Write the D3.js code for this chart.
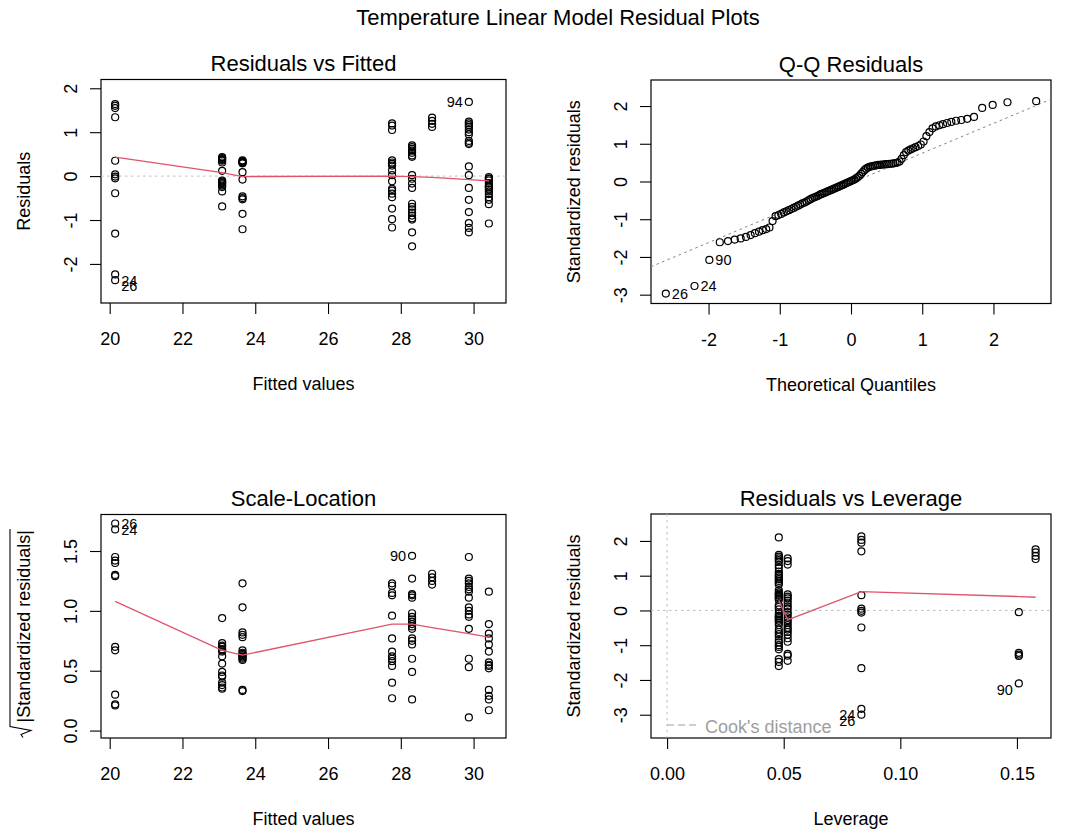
<!DOCTYPE html>
<html>
<head>
<meta charset="utf-8">
<title>Temperature Linear Model Residual Plots</title>
<script src="https://cdn.jsdelivr.net/npm/d3@7"></script>
<style>
  html, body { margin: 0; padding: 0; background: #ffffff; }
  svg { display: block; font-family: "Liberation Sans", Arial, Helvetica, sans-serif; }
</style>
</head>
<body>
<svg id="chart" width="1066" height="835"></svg>
<script>
// ---------- Residuals vs Fitted ----------
const fittedLevels = [20.15, 23.09, 23.65, 27.76, 28.31, 28.86, 29.87, 30.42];
const residualsByLevel = [
  [1.64, 1.60, 1.55, 1.34, 0.35, 0.04, -0.01, -0.05, -0.39, -1.31, -2.24, -2.37],
  [0.43, 0.41, 0.39, 0.37, 0.35, 0.31, 0.12, -0.10, -0.12, -0.14, -0.16, -0.19, -0.22, -0.25, -0.35, -0.69],
  [0.36, 0.34, 0.33, 0.32, 0.30, 0.29, 0.09, -0.08, -0.46, -0.50, -0.53, -0.86, -1.21],
  [1.20, 1.15, 1.05, 0.36, 0.31, 0.28, 0.24, 0.13, 0.02, -0.12, -0.29, -0.33, -0.40, -0.48, -0.74, -0.98, -1.17],
  [0.70, 0.66, 0.62, 0.58, 0.53, 0.47, 0.44, 0.02, -0.06, -0.17, -0.27, -0.63, -0.70, -0.76, -0.83, -0.90, -0.96, -0.99, -1.28, -1.60],
  [1.33, 1.26, 1.19, 1.12],
  [1.69, 1.24, 1.20, 1.16, 1.12, 1.06, 1.00, 0.95, 0.80, 0.76, 0.73, 0.22, 0.02, -0.27, -0.54, -0.82, -1.07, -1.18, -1.28],
  [-0.02, -0.05, -0.07, -0.10, -0.16, -0.22, -0.24, -0.26, -0.30, -0.35, -0.41, -0.48, -0.54, -0.64, -1.08]
];
const residualSmooth = [0.43, 0.08, -0.01, 0.00, -0.01, -0.03, -0.08, -0.11];
const residualLabels = [
  { id: "94", x: 29.87, y: 1.69 },
  { id: "24", x: 20.15, y: -2.24 },
  { id: "26", x: 20.15, y: -2.37 }
];

// ---------- Q-Q Residuals ----------
const qqTheoretical = [
  -2.600, -2.197, -1.989, -1.842, -1.727, -1.632, -1.549, -1.475, -1.409, -1.349,
  -1.292, -1.240, -1.191, -1.145, -1.101, -1.059, -1.019, -0.980, -0.943, -0.907,
  -0.872, -0.838, -0.805, -0.773, -0.742, -0.711, -0.682, -0.652, -0.624, -0.595,
  -0.568, -0.540, -0.513, -0.487, -0.461, -0.435, -0.410, -0.384, -0.359, -0.334,
  -0.310, -0.285, -0.261, -0.237, -0.213, -0.189, -0.165, -0.141, -0.117, -0.094,
  -0.070, -0.047, -0.023, 0.000, 0.023, 0.047, 0.070, 0.094, 0.117, 0.141,
  0.165, 0.189, 0.213, 0.237, 0.261, 0.285, 0.310, 0.334, 0.359, 0.384,
  0.410, 0.435, 0.461, 0.487, 0.513, 0.540, 0.568, 0.595, 0.624, 0.652,
  0.682, 0.711, 0.742, 0.773, 0.805, 0.838, 0.872, 0.907, 0.943, 0.980,
  1.019, 1.059, 1.101, 1.145, 1.191, 1.240, 1.292, 1.349, 1.409, 1.475,
  1.549, 1.632, 1.727, 1.842, 1.989, 2.197, 2.600
];
const qqSample = [
  -2.97, -2.77, -2.08, -1.61, -1.58, -1.54, -1.51, -1.47, -1.42, -1.37,
  -1.33, -1.29, -1.26, -1.22, -1.05, -0.92, -0.89, -0.86, -0.82, -0.79,
  -0.76, -0.73, -0.70, -0.67, -0.64, -0.61, -0.58, -0.56, -0.53, -0.50,
  -0.47, -0.44, -0.42, -0.40, -0.38, -0.35, -0.33, -0.31, -0.29, -0.27,
  -0.25, -0.23, -0.21, -0.19, -0.17, -0.15, -0.13, -0.11, -0.09, -0.07,
  -0.05, -0.03, -0.01, 0.01, 0.03, 0.05, 0.08, 0.11, 0.15, 0.20,
  0.25, 0.30, 0.34, 0.37, 0.39, 0.40, 0.41, 0.42, 0.43, 0.44,
  0.44, 0.45, 0.45, 0.46, 0.46, 0.47, 0.47, 0.48, 0.49, 0.50,
  0.53, 0.60, 0.70, 0.78, 0.82, 0.85, 0.88, 0.91, 0.94, 0.98,
  1.06, 1.20, 1.31, 1.41, 1.46, 1.49, 1.52, 1.55, 1.58, 1.61,
  1.63, 1.66, 1.71, 1.95, 2.03, 2.10, 2.13
];
const qqLineIntercept = -0.04;
const qqLineSlope = 0.79;
const qqLabels = [
  { id: "26", rank: 0 },
  { id: "24", rank: 1 },
  { id: "90", rank: 2 }
];

// ---------- Scale-Location ----------
const scaleByLevel = [
  [1.73, 1.68, 1.45, 1.42, 1.40, 1.30, 1.29, 0.70, 0.67, 0.30, 0.22, 0.21],
  [0.94, 0.73, 0.71, 0.70, 0.68, 0.67, 0.66, 0.62, 0.56, 0.49, 0.46, 0.45, 0.40, 0.38, 0.36, 0.35],
  [1.23, 1.03, 0.82, 0.80, 0.78, 0.67, 0.65, 0.64, 0.63, 0.62, 0.61, 0.60, 0.59, 0.34, 0.33],
  [1.23, 1.21, 1.15, 1.13, 0.96, 0.77, 0.66, 0.62, 0.60, 0.58, 0.54, 0.40, 0.27],
  [1.46, 1.27, 1.14, 1.13, 1.11, 0.98, 0.95, 0.93, 0.91, 0.89, 0.87, 0.85, 0.77, 0.75, 0.72, 0.60, 0.49, 0.26],
  [1.31, 1.28, 1.25, 1.22],
  [1.45, 1.27, 1.25, 1.23, 1.20, 1.18, 1.16, 1.11, 1.03, 1.00, 0.97, 0.95, 0.85, 0.60, 0.53, 0.11],
  [1.16, 0.89, 0.81, 0.77, 0.72, 0.66, 0.57, 0.55, 0.54, 0.52, 0.34, 0.29, 0.26, 0.17]
];
const scaleSmooth = [1.08, 0.67, 0.63, 0.89, 0.89, 0.86, 0.81, 0.78];
const scaleLabels = [
  { id: "26", x: 20.15, y: 1.73 },
  { id: "24", x: 20.15, y: 1.68 },
  { id: "90", x: 28.31, y: 1.46 }
];

// ---------- Residuals vs Leverage ----------
const leverageLevels = [0.0479, 0.0517, 0.0833, 0.1508, 0.158];
const stdResidByLeverage = [
  [2.10, 1.60, 1.55, 1.50, 1.45, 1.40, 1.30, 1.22, 1.12, 1.05, 1.00, 0.95, 0.90, 0.85, 0.80, 0.75,
   0.58, 0.52, 0.48, 0.45, 0.42, 0.38, 0.35, 0.30, 0.15, 0.10, 0.03, -0.08, -0.15, -0.18, -0.22,
   -0.26, -0.30, -0.35, -0.42, -0.55, -0.62, -0.68, -0.75, -0.85, -0.92, -1.00, -1.05, -1.12,
   -1.40, -1.48, -1.60],
  [1.50, 1.42, 1.32, 0.46, 0.40, 0.35, 0.28, 0.20, 0.12, 0.05, -0.05, -0.12, -0.20, -0.28, -0.35,
   -0.42, -0.50, -0.55, -0.62, -0.70, -0.80, -0.90, -1.25, -1.30, -1.45],
  [2.13, 2.03, 1.95, 1.70, 0.44, 0.05, -0.01, -0.06, -0.49, -1.66, -2.83, -3.00],
  [-0.05, -1.22, -1.27, -1.31, -2.10],
  [1.76, 1.67, 1.57, 1.48]
];
const leverageSmooth = [0.29, -0.27, 0.54, 0.40, 0.38];
const leverageLabels = [
  { id: "24", x: 0.0833, y: -2.83 },
  { id: "26", x: 0.0833, y: -3.00 },
  { id: "90", x: 0.1508, y: -2.10 }
];

// ---------- tick values ----------
const fittedTicks = [20, 22, 24, 26, 28, 30];
const residualTicks = [-2, -1, 0, 1, 2];
const quantileTicks = [-2, -1, 0, 1, 2];
const stdResidTicks = [-3, -2, -1, 0, 1, 2];
const scaleTicks = [0, 0.5, 1.0, 1.5];
const leverageTicks = [0, 0.05, 0.10, 0.15];

// ---------- drawing ----------
const svg = d3.select("#chart");
const FONT = '"Liberation Sans", Arial, Helvetica, sans-serif';
const INK = "#000000";
const SMOOTH = "#DF536B";
const AXIS_SIZE = 18;
const TITLE_SIZE = 22;
const ID_SIZE = 14.5;
const POINT_R = 3.5;

svg.append("rect").attr("width", 1066).attr("height", 835).attr("fill", "#ffffff");

const withHyphen = f => d => f(d).replace("\u2212", "-");

function panel(box, xDomain, yDomain, opts, clipId) {
  const x = d3.scaleLinear().domain(xDomain).range([box.left, box.right]);
  const y = d3.scaleLinear().domain(yDomain).range([box.bottom, box.top]);
  const g = svg.append("g");

  svg.append("clipPath").attr("id", clipId)
    .append("rect")
    .attr("x", box.left).attr("y", box.top)
    .attr("width", box.right - box.left).attr("height", box.bottom - box.top);

  // x axis
  const ax = g.append("g")
    .attr("transform", `translate(0,${box.bottom})`)
    .call(d3.axisBottom(x).tickValues(opts.xTicks).tickFormat(withHyphen(opts.xFmt))
      .tickSize(11).tickSizeOuter(0));
  ax.select(".domain").remove();
  ax.attr("font-size", AXIS_SIZE).attr("font-family", FONT);
  ax.selectAll("line").attr("stroke", INK).attr("stroke-width", 1.1);
  ax.selectAll("text").attr("y", 42).attr("dy", null).attr("fill", INK);

  // y axis, labels written parallel to the axis
  const ay = g.append("g")
    .attr("transform", `translate(${box.left},0)`)
    .call(d3.axisLeft(y).tickValues(opts.yTicks).tickFormat(withHyphen(opts.yFmt))
      .tickSize(11).tickSizeOuter(0));
  ay.select(".domain").remove();
  ay.attr("font-size", AXIS_SIZE).attr("font-family", FONT);
  ay.selectAll("line").attr("stroke", INK).attr("stroke-width", 1.1);
  ay.selectAll("text")
    .attr("x", 0).attr("y", -24).attr("dy", null)
    .attr("text-anchor", "middle")
    .attr("transform", "rotate(-90)")
    .attr("fill", INK);

  // frame
  g.append("rect")
    .attr("x", box.left).attr("y", box.top)
    .attr("width", box.right - box.left).attr("height", box.bottom - box.top)
    .attr("fill", "none").attr("stroke", INK).attr("stroke-width", 1.2);

  const cx = (box.left + box.right) / 2;
  const cy = (box.top + box.bottom) / 2;

  g.append("text")
    .attr("x", cx).attr("y", box.top - 8.5)
    .attr("text-anchor", "middle")
    .attr("font-size", TITLE_SIZE).attr("fill", INK)
    .text(opts.title);

  g.append("text")
    .attr("x", cx).attr("y", box.bottom + 87)
    .attr("text-anchor", "middle")
    .attr("font-size", AXIS_SIZE).attr("fill", INK)
    .text(opts.xTitle);

  const yt = g.append("g").attr("transform", `translate(${box.left - 71},${cy}) rotate(-90)`);
  const ytText = yt.append("text")
    .attr("x", 0).attr("y", 0)
    .attr("text-anchor", "middle")
    .attr("font-size", AXIS_SIZE).attr("fill", INK)
    .text(opts.yTitle);
  if (opts.radical) {
    const w = ytText.node().getComputedTextLength();
    const L = -w / 2 - 2;
    yt.append("path")
      .attr("d", `M${L - 13},-7 L${L - 10},-9 L${L - 6},1 L${L - 2},-20 L${w / 2 + 1},-20`)
      .attr("fill", "none").attr("stroke", INK).attr("stroke-width", 1.1);
  }

  const plot = g.append("g").attr("clip-path", `url(#${clipId})`);
  return { x, y, g, plot, box };
}

function drawPoints(p, pts) {
  p.plot.append("g").selectAll("circle")
    .data(pts).join("circle")
    .attr("cx", d => p.x(d.x)).attr("cy", d => p.y(d.y))
    .attr("r", POINT_R)
    .attr("fill", "none").attr("stroke", INK).attr("stroke-width", 1.2);
}

function drawSmooth(p, xs, ys) {
  const line = d3.line().x(d => p.x(d[0])).y(d => p.y(d[1]));
  p.plot.append("path")
    .datum(xs.map((v, i) => [v, ys[i]]))
    .attr("d", line)
    .attr("fill", "none").attr("stroke", SMOOTH).attr("stroke-width", 1.3);
}

function hRule(p, v, color) {
  p.plot.append("line")
    .attr("x1", p.box.left).attr("x2", p.box.right)
    .attr("y1", p.y(v)).attr("y2", p.y(v))
    .attr("stroke", color).attr("stroke-width", 1).attr("stroke-dasharray", "2.5,3.5");
}

// point ids: right of the point in the left half, left of it in the right half;
// negative values in some panels drop a little so stacked ids stay readable
function drawIds(p, labels, dropNegative) {
  const mid = (p.x.domain()[0] + p.x.domain()[1]) / 2;
  p.g.append("g").selectAll("text")
    .data(labels).join("text")
    .attr("x", d => p.x(d.x) + (d.x > mid ? -6 : 6))
    .attr("y", d => p.y(d.y) + (dropNegative && d.y < 0 ? 6 : 0))
    .attr("dy", "0.35em")
    .attr("text-anchor", d => d.x > mid ? "end" : "start")
    .attr("font-size", ID_SIZE).attr("fill", INK)
    .text(d => d.id);
}

const fmtInt = d3.format("d");

// Residuals vs Fitted
const p1 = panel({ left: 101, right: 506, top: 79.5, bottom: 303 },
  [19.761, 30.891], [-2.89, 2.20],
  { xTicks: fittedTicks, yTicks: residualTicks, xFmt: fmtInt, yFmt: fmtInt,
    title: "Residuals vs Fitted", xTitle: "Fitted values", yTitle: "Residuals" }, "clip-rvf");
hRule(p1, 0, "#BEBEBE");
drawPoints(p1, fittedLevels.flatMap((f, i) => residualsByLevel[i].map(r => ({ x: f, y: r }))));
drawSmooth(p1, fittedLevels, residualSmooth);
drawIds(p1, residualLabels, true);

// Q-Q Residuals
const p2 = panel({ left: 651, right: 1051, top: 80, bottom: 303.5 },
  [-2.808, 2.808], [-3.234, 2.69],
  { xTicks: quantileTicks, yTicks: stdResidTicks, xFmt: fmtInt, yFmt: fmtInt,
    title: "Q-Q Residuals", xTitle: "Theoretical Quantiles", yTitle: "Standardized residuals" }, "clip-qq");
{
  const xd = p2.x.domain();
  p2.plot.append("line")
    .attr("x1", p2.x(xd[0])).attr("y1", p2.y(qqLineIntercept + qqLineSlope * xd[0]))
    .attr("x2", p2.x(xd[1])).attr("y2", p2.y(qqLineIntercept + qqLineSlope * xd[1]))
    .attr("stroke", "#7F7F7F").attr("stroke-width", 1).attr("stroke-dasharray", "2.5,3.5");
}
drawPoints(p2, qqTheoretical.map((q, i) => ({ x: q, y: qqSample[i] })));
drawIds(p2, qqLabels.map(l => ({ id: l.id, x: qqTheoretical[l.rank], y: qqSample[l.rank] })), false);

// Scale-Location
const p3 = panel({ left: 101, right: 506, top: 514.5, bottom: 738 },
  [19.761, 30.891], [-0.062, 1.805],
  { xTicks: fittedTicks, yTicks: scaleTicks, xFmt: fmtInt, yFmt: d3.format(".1f"),
    title: "Scale-Location", xTitle: "Fitted values", yTitle: "|Standardized residuals|",
    radical: true }, "clip-sl");
drawPoints(p3, fittedLevels.flatMap((f, i) => scaleByLevel[i].map(v => ({ x: f, y: v }))));
drawSmooth(p3, fittedLevels, scaleSmooth);
drawIds(p3, scaleLabels, false);

// Residuals vs Leverage
const p4 = panel({ left: 651, right: 1051, top: 514, bottom: 738 },
  [-0.0069, 0.1646], [-3.67, 2.775],
  { xTicks: leverageTicks, yTicks: stdResidTicks, xFmt: d3.format(".2f"), yFmt: fmtInt,
    title: "Residuals vs Leverage", xTitle: "Leverage", yTitle: "Standardized residuals" }, "clip-rvl");
hRule(p4, 0, "#BEBEBE");
p4.plot.append("line")
  .attr("x1", p4.x(0)).attr("x2", p4.x(0))
  .attr("y1", p4.box.top).attr("y2", p4.box.bottom)
  .attr("stroke", "#BEBEBE").attr("stroke-width", 1).attr("stroke-dasharray", "2.5,3.5");
drawPoints(p4, leverageLevels.flatMap((h, i) => stdResidByLeverage[i].map(v => ({ x: h, y: v }))));
drawSmooth(p4, leverageLevels, leverageSmooth);
drawIds(p4, leverageLabels, true);

// Cook's distance legend, bottom-left corner
{
  const lg = p4.g.append("g").attr("transform", `translate(${p4.x(0)},${p4.box.bottom - 13})`);
  lg.append("line")
    .attr("x1", 0).attr("x2", 30).attr("y1", 0).attr("y2", 0)
    .attr("stroke", "#9E9E9E").attr("stroke-width", 1.2).attr("stroke-dasharray", "7,4");
  lg.append("text")
    .attr("x", 38).attr("y", 2).attr("dy", "0.35em")
    .attr("font-size", AXIS_SIZE).attr("fill", "#9E9E9E")
    .text("Cook's distance");
}

// overall heading
svg.append("text")
  .attr("x", 558).attr("y", 25)
  .attr("text-anchor", "middle")
  .attr("font-size", TITLE_SIZE).attr("font-family", FONT).attr("fill", INK)
  .text("Temperature Linear Model Residual Plots");
</script>
</body>
</html>
